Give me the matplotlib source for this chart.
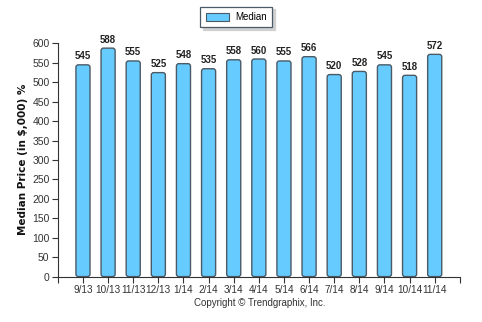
import matplotlib
matplotlib.use("Agg")
import matplotlib.pyplot as plt
from matplotlib.patches import FancyBboxPatch, Rectangle

months = ["9/13", "10/13", "11/13", "12/13", "1/14", "2/14", "3/14", "4/14",
          "5/14", "6/14", "7/14", "8/14", "9/14", "10/14", "11/14"]
median = [545, 588, 555, 525, 548, 535, 558, 560, 555, 566, 520, 528, 545, 518, 572]
y_ticks = list(range(0, 601, 50))

bar_color = "#66CCFF"
edge_color = "#4a5a66"
txt_font = "Liberation Sans"

fig = plt.figure(figsize=(4.82, 3.22), dpi=100)
ax = fig.add_axes([0.120, 0.141, 0.834, 0.724])

x = list(range(len(months)))
ax.set_xlim(-1, len(months))
ax.set_ylim(0, 600)

# px per data unit, used to keep the corner rounding circular
px_x = 0.834 * 482 / (len(months) + 1)
px_y = 0.724 * 322 / 600
width = 0.56
rad_px = 2.5
for xi, v in zip(x, median):
    p = FancyBboxPatch((xi - width / 2, 0), width, v,
                       boxstyle=f"round,pad=0,rounding_size={rad_px / px_x}",
                       mutation_aspect=px_x / px_y,
                       facecolor=bar_color, edgecolor=edge_color, linewidth=1.0,
                       zorder=2)
    ax.add_patch(p)
    ax.text(xi, v + 9, str(v), ha="center", va="bottom", fontsize=7,
            fontweight="bold", color="#222222", family=txt_font)

ax.set_xticks(x + [-1, len(months)])
ax.set_xticklabels(months + ["", ""], fontsize=7.2, color="#333333", family=txt_font)
ax.set_yticks(y_ticks)
ax.set_yticklabels([str(t) for t in y_ticks], fontsize=7.5, color="#333333", family=txt_font)
ax.tick_params(axis="both", length=4, width=0.8, color="#333333", pad=2)
ax.tick_params(axis="x", pad=2)

for s in ("top", "right"):
    ax.spines[s].set_visible(False)
for s in ("left", "bottom"):
    ax.spines[s].set_color("#333333")
    ax.spines[s].set_linewidth(0.8)

ax.set_ylabel("Median Price (in $,000) %", fontsize=7.5, fontweight="bold",
              color="#111111")
ax.yaxis.set_label_coords(-0.075, 0.505)

# legend
handle = Rectangle((0, 0), 1, 1, facecolor=bar_color, edgecolor=edge_color, linewidth=0.8)
leg = fig.legend([handle], ["Median"], loc="center", bbox_to_anchor=(236 / 482, 1 - 17 / 322),
                 prop={"family": txt_font, "size": 7}, frameon=True, fancybox=False,
                 shadow={"color": "#d0d0d0", "alpha": 1.0},
                 handlelength=2.4, handleheight=0.9, borderpad=0.55, handletextpad=0.6,
                 borderaxespad=0)
leg.get_frame().set_edgecolor("#4a5a66")
leg.get_frame().set_linewidth(0.9)

fig.text(260 / 482, 1 - 303 / 322, "Copyright \u00a9 Trendgraphix, Inc.", ha="center",
         va="center", fontsize=7, color="#333333", family=txt_font)

fig.savefig("out.png", dpi=100)
